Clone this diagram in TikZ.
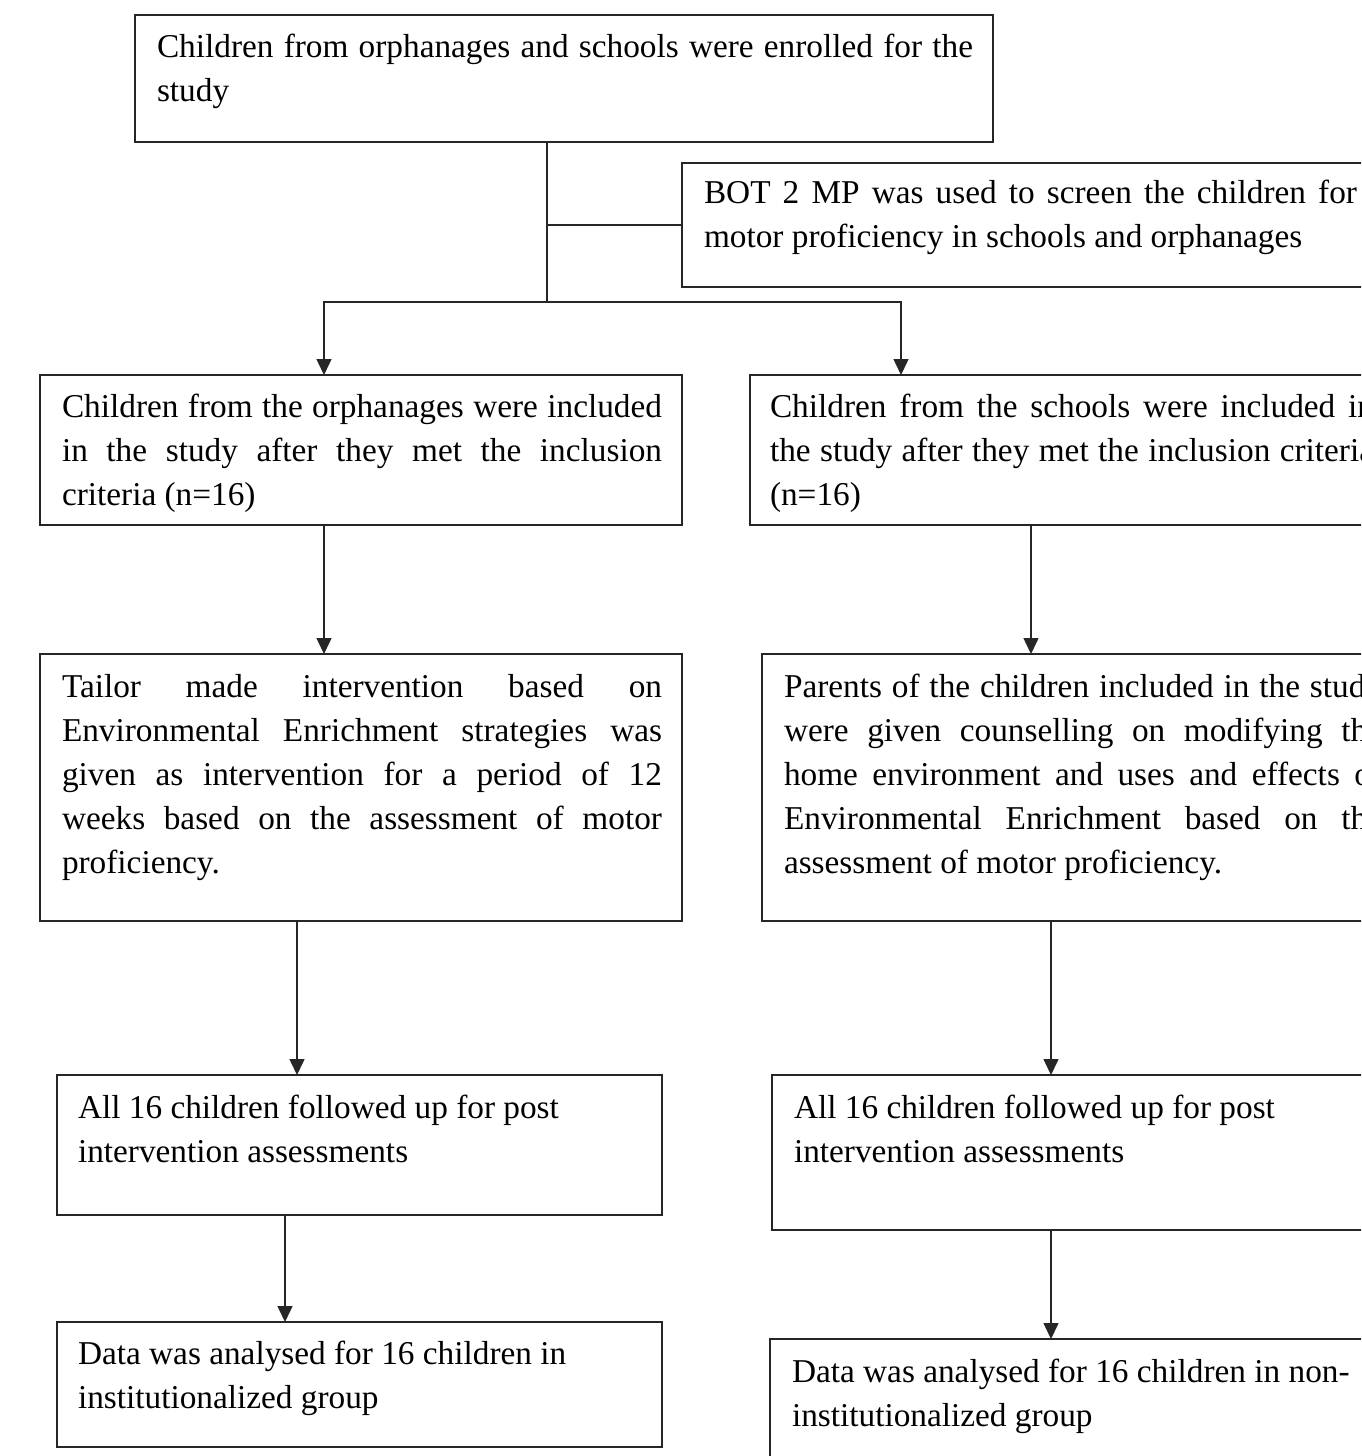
\documentclass[tikz,border=0pt]{standalone}
\usepackage{fontspec}
\setmainfont[Ligatures=CommonOff]{Liberation Serif}
\usetikzlibrary{arrows.meta}
\tolerance=10000
\hbadness=10000
\frenchspacing
\newcommand\mkbox[5]{\node[box,anchor=north west,minimum width=#4pt,minimum height=#5pt] (#1) at (#2,#3) {};}
\newcommand\mktext[5]{\node[txt] (#1) at (#2,#3) {\parbox[t]{#4pt}{#5}};}
\begin{document}
\begin{tikzpicture}[x=1pt,y=-1pt,
  box/.style={draw=black!85,line width=1.5pt,inner sep=0pt,outer sep=0pt},
  txt/.style={anchor=base west,inner sep=0pt,outer sep=0pt,font=\fontsize{33.3}{44}\selectfont},
  conn/.style={draw=black!85,line width=1.5pt},
  arr/.style={conn,-{Triangle[width=15pt,length=16pt]}}]
\useasboundingbox (0,0) rectangle (1361,1456);
\fill[white] (0,0) rectangle (1361,1456);
\clip (0,0) rectangle (1361,1456);
% boxes
\mkbox{b1}{135}{15}{858}{127}
\mkbox{b2}{682}{163}{720}{124}
\mkbox{b3}{40}{375}{642}{150}
\mkbox{b4}{750}{375}{642}{150}
\mkbox{b5}{40}{654}{642}{267}
\mkbox{b6}{762}{654}{642}{267}
\mkbox{b7}{57}{1075}{605}{140}
\mkbox{b8}{772}{1075}{605}{155}
\mkbox{b9}{57}{1322}{605}{125}
\mkbox{b10}{770}{1339}{605}{140}
% texts
\mktext{t1}{157}{57}{816}{Children from orphanages and schools were enrolled for the\linebreak study}
\mktext{t2}{704}{203}{653}{BOT 2 MP was used to screen the children for\linebreak motor proficiency in schools and orphanages}
\mktext{t3}{62}{417}{600}{Children from the orphanages were included\linebreak in the study after they met the inclusion\linebreak criteria (n=16)}
\mktext{t4}{770}{417}{604}{Children from the schools were included in\linebreak the study after they met the inclusion criteria\linebreak (n=16)}
\mktext{t5}{62}{697}{600}{Tailor made intervention based on\linebreak Environmental Enrichment strategies was\linebreak given as intervention for a period of 12\linebreak weeks based on the assessment of motor\linebreak proficiency.}
\mktext{t6}{784}{697}{598}{Parents of the children included in the study\linebreak were given counselling on modifying the\linebreak home environment and uses and effects of\linebreak Environmental Enrichment based on the\linebreak assessment of motor proficiency.}
\mktext{t7}{78}{1118}{560}{\raggedright All 16 children followed up for post\newline intervention assessments}
\mktext{t8}{794}{1118}{560}{\raggedright All 16 children followed up for post\newline intervention assessments}
\mktext{t9}{78}{1364}{560}{\raggedright Data was analysed for 16 children in\newline institutionalized group}
\mktext{t10}{792}{1382}{560}{\raggedright Data was analysed for 16 children in non-\newline institutionalized group}
% junctions and connector columns
\coordinate (j0) at (547,225);
\coordinate (j1) at (547,302);
\coordinate (jl) at (324,302);
\coordinate (jr) at (901,302);
\coordinate (c4) at (1031,0);
\coordinate (c5) at (297,0);
\coordinate (c6) at (1051,0);
\coordinate (c7) at (285,0);
% connectors
\draw[conn] (b1.south -| j1) -- (j1);
\draw[conn] (j0) -- (j0 -| b2.west);
\draw[arr] (j1) -- (jl) -- (jl |- b3.north);
\draw[arr] (j1) -- (jr) -- (jr |- b4.north);
\draw[arr] (jl |- b3.south) -- (jl |- b5.north);
\draw[arr] (c4 |- b4.south) -- (c4 |- b6.north);
\draw[arr] (c5 |- b5.south) -- (c5 |- b7.north);
\draw[arr] (c6 |- b6.south) -- (c6 |- b8.north);
\draw[arr] (c7 |- b7.south) -- (c7 |- b9.north);
\draw[arr] (c6 |- b8.south) -- (c6 |- b10.north);
\end{tikzpicture}
\end{document}
